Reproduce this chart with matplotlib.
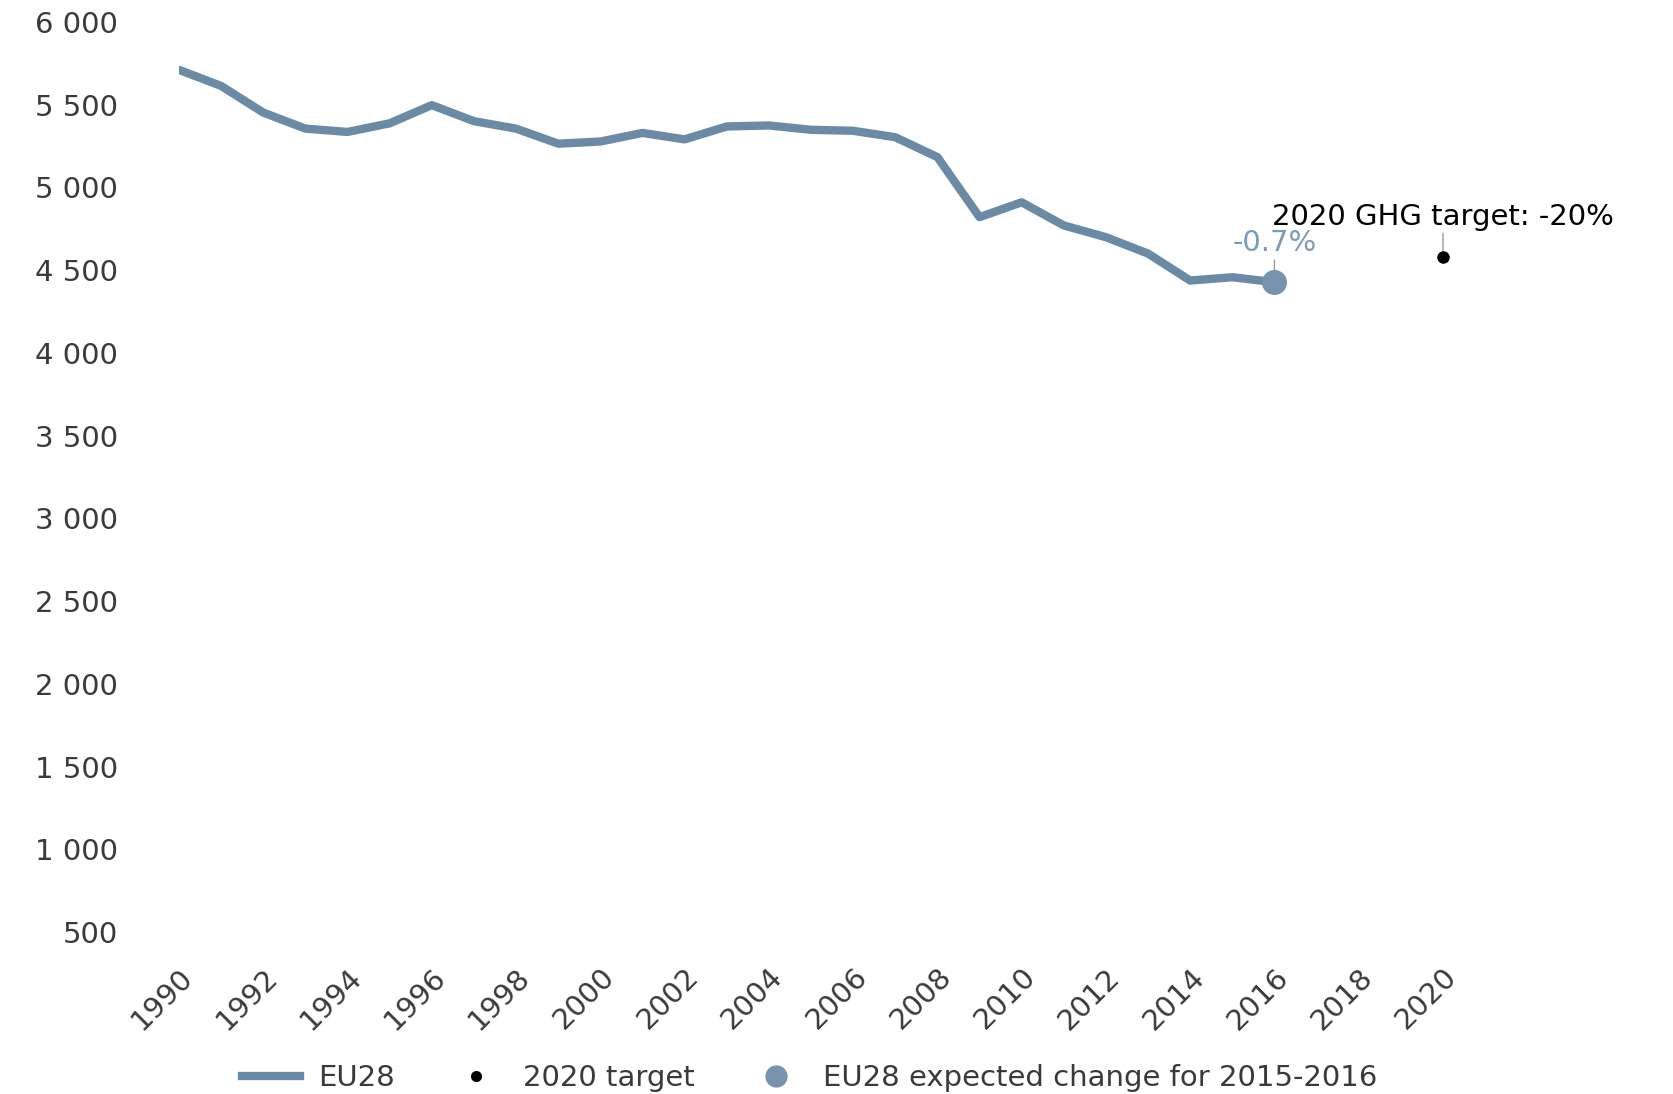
import matplotlib
matplotlib.use("Agg")
import matplotlib.pyplot as plt
from matplotlib.lines import Line2D

years = list(range(1990, 2017))
eu28 = [5710, 5613, 5452, 5355, 5335, 5387, 5497, 5400, 5355, 5264,
        5277, 5329, 5290, 5368, 5374, 5348, 5342, 5303, 5183, 4820,
        4910, 4770, 4699, 4600, 4437, 4457, 4427]
target_year = 2020
target_value = 4579
expected_year = 2016
expected_value = 4427
expected_label = "-0.7%"
target_label = "2020 GHG target: -20%"
xticks = list(range(1990, 2021, 2))
yticks = list(range(500, 6001, 500))

line_color = "#6a8aa5"
dot_color = "#7793ad"
label_color = "#7d9bb5"
tick_color = "#3a3a3a"
fs = 21

plt.rcParams['font.family'] = ['DejaVu Sans']
fig = plt.figure(figsize=(16.73, 10.94), dpi=100)
ax = fig.add_axes([0.107, 0.148, 0.8625 - 0.107, 0.980 - 0.148])

ax.plot(years, eu28, color=line_color, lw=6, solid_capstyle='round',
        solid_joinstyle='round', zorder=3)
ax.plot([expected_year], [expected_value], 'o', color=dot_color, ms=17, zorder=4)
ax.plot([target_year], [target_value], 'o', color='black', ms=8, zorder=4, clip_on=False)

ax.annotate(expected_label, xy=(expected_year, expected_value + 30),
            xytext=(expected_year, expected_value + 150),
            ha='center', va='bottom', color=label_color, fontsize=fs,
            arrowprops=dict(arrowstyle='-', color='#999999', lw=1,
                            shrinkA=0, shrinkB=0), annotation_clip=False, zorder=2)
ax.annotate(target_label, xy=(target_year, target_value + 40),
            xytext=(target_year, target_value + 160),
            ha='center', va='bottom', color='black', fontsize=fs,
            arrowprops=dict(arrowstyle='-', color='#999999', lw=1,
                            shrinkA=0, shrinkB=0), annotation_clip=False, zorder=5)

ax.set_xlim(1990, 2020)
ax.set_ylim(500, 6000)
ax.set_xticks(xticks)
ax.set_xticklabels([str(x) for x in xticks], rotation=45, ha='right',
                   rotation_mode='anchor')
ax.set_yticks(yticks)
ax.set_yticklabels([f"{v:,}".replace(",", " ") for v in yticks])
ax.tick_params(axis='both', length=0, labelsize=fs, colors=tick_color)
ax.tick_params(axis='y', pad=44)
ax.tick_params(axis='x', pad=22)
for s in ax.spines.values():
    s.set_visible(False)
ax.patch.set_alpha(0)

handles = [
    Line2D([], [], color=line_color, lw=6),
    Line2D([], [], color='black', marker='o', ls='none', ms=7),
    Line2D([], [], color=dot_color, marker='o', ls='none', ms=15),
]
labels = ["EU28", "2020 target", "EU28 expected change for 2015-2016"]
fig.legend(handles, labels, loc='lower center', bbox_to_anchor=(0.484, -0.022),
           ncol=3, frameon=False, fontsize=fs, handlelength=2.0,
           columnspacing=1.8, handletextpad=0.6, labelcolor=tick_color)

fig.savefig("out.png", dpi=100)
